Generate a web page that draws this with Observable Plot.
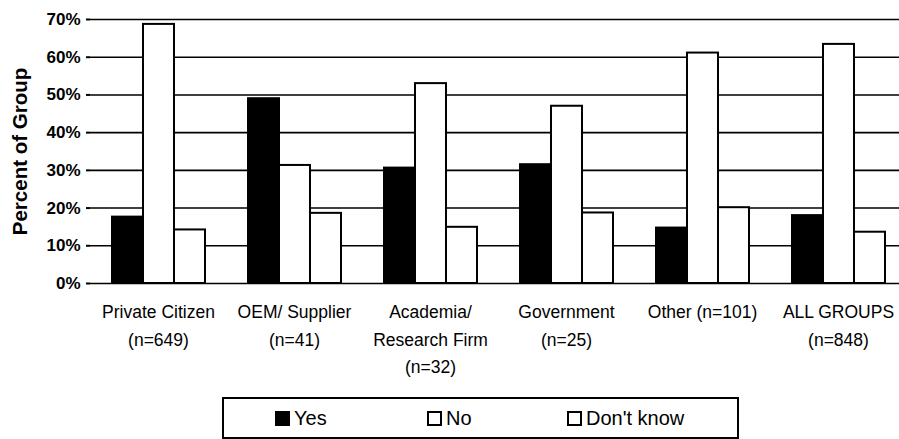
<!DOCTYPE html>
<html>
<head>
<meta charset="utf-8">
<script src="https://cdn.jsdelivr.net/npm/d3@7"></script>
<script src="https://cdn.jsdelivr.net/npm/@observablehq/plot@0.6"></script>
<style>
  html, body { margin: 0; padding: 0; background: #fff; overflow: hidden; }
  #wrap { position: relative; width: 899px; height: 439px; font-family: "Liberation Sans", Arial, sans-serif; }
  #legend { position: absolute; left: 222px; top: 397px; width: 513px; height: 38px; border: 2px solid #000; box-sizing: content-box; }
  .item { position: absolute; top: 0; height: 38px; display: flex; align-items: center; font-size: 20px; color: #000; }
  .sw { width: 11px; height: 11px; border: 2px solid #000; margin-right: 4px; }
  g[aria-label="y-axis label"] text { font-size: 20.5px; font-weight: bold; }
</style>
</head>
<body>
<div id="wrap"><div id="chart"></div><div id="legend"></div></div>
<script>
// ---- data ----
const groups = [
  "Private Citizen\n(n=649)",
  "OEM/ Supplier\n(n=41)",
  "Academia/\nResearch Firm\n(n=32)",
  "Government\n(n=25)",
  "Other (n=101)",
  "ALL GROUPS\n(n=848)"
];
const series = ["Yes", "No", "Don't know"];
const yesValues = [17.6, 49, 30.6, 31.5, 14.7, 18];
const noValues = [68.7, 31.3, 53, 47, 61.1, 63.4];
const dontKnowValues = [14.2, 18.6, 14.9, 18.7, 20.1, 13.6];
const yTicks = [0, 10, 20, 30, 40, 50, 60, 70];
const seriesColors = ["#000000", "#ffffff", "#ffffff"];

const valuesBySeries = [yesValues, noValues, dontKnowValues];
const rows = [];
groups.forEach((g, i) => {
  series.forEach((s, j) => rows.push({group: g, series: s, value: valuesBySeries[j][i]}));
});

const chart = Plot.plot({
  width: 899,
  height: 380,
  marginLeft: 90,
  marginRight: -7,
  marginTop: 19,
  marginBottom: 97,
  style: {fontFamily: "'Liberation Sans', Arial, sans-serif", color: "#000", background: "#fff", overflow: "visible"},
  fx: {domain: groups, padding: 0},
  x: {domain: series, paddingInner: 0, paddingOuter: 0.69, axis: null},
  y: {domain: [0, 70]},
  color: {domain: series, range: seriesColors},
  marks: [
    Plot.ruleY(yTicks, {stroke: "#000", strokeWidth: 1.6}),
    Plot.barY(rows, {fx: "group", x: "series", y: "value", fill: "series", stroke: "#000", strokeWidth: 2}),
    Plot.axisFx({anchor: "bottom", tickSize: 0, tickPadding: 15, fontSize: 17.5, lineHeight: 1.58, label: null}),
    Plot.axisY({
      ticks: yTicks, tickFormat: d => d + "%", tickSize: 4, tickPadding: 6,
      fontSize: 17, fontWeight: "bold", strokeWidth: 2, line: true,
      label: "Percent of Group", labelAnchor: "center", labelArrow: "none", labelOffset: 78
    })
  ]
});
document.getElementById("chart").appendChild(chart);

// ---- legend ----
const legendLefts = [51, 203, 343];
const legend = document.getElementById("legend");
series.forEach((s, i) => {
  const item = document.createElement("div");
  item.className = "item";
  item.style.left = legendLefts[i] + "px";
  const sw = document.createElement("span");
  sw.className = "sw";
  sw.style.background = seriesColors[i];
  const t = document.createElement("span");
  t.textContent = s;
  item.appendChild(sw);
  item.appendChild(t);
  legend.appendChild(item);
});
</script>
</body>
</html>
